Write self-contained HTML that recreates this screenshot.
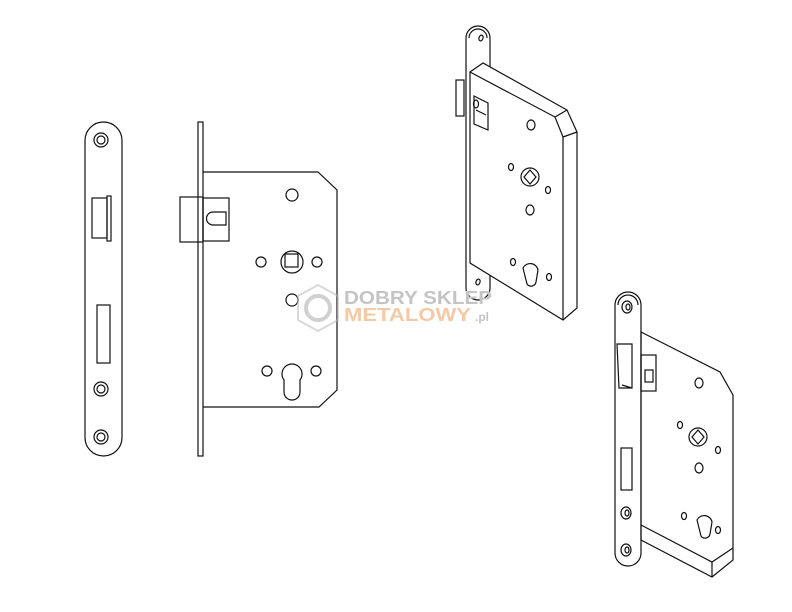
<!DOCTYPE html>
<html><head><meta charset="utf-8"><style>
html,body{margin:0;padding:0;background:#fff;width:792px;height:612px;overflow:hidden}
svg{display:block}
</style></head><body>
<svg width="792" height="612" viewBox="0 0 792 612" xmlns="http://www.w3.org/2000/svg">
<g fill="none" stroke="#111" stroke-width="1.2">
<!-- front faceplate -->
<rect x="85" y="122" width="37" height="334" rx="18.5"/>
<circle cx="101" cy="140" r="7"/><circle cx="101" cy="140" r="4"/>
<circle cx="101" cy="389" r="7"/><circle cx="101" cy="389" r="4"/>
<circle cx="101" cy="437" r="7"/><circle cx="101" cy="437" r="4"/>
<rect x="92" y="198" width="15" height="40"/>
<rect x="107" y="196" width="4" height="45"/>
<rect x="97" y="305" width="13" height="58"/>
<!-- side view -->
<rect x="198" y="122" width="5" height="334"/>
<path d="M203 172 H318 L337 190 V390 L319 407 H203"/>
<rect x="180" y="197" width="23" height="45"/>
<rect x="203" y="198" width="26" height="43"/>
<path d="M226 212 H213 A6.5 6.5 0 0 0 213 225 H226 Z"/>
<circle cx="292" cy="195" r="6"/>
<circle cx="292" cy="262" r="11"/>
<rect x="285" y="254" width="13" height="13"/>
<circle cx="261" cy="262" r="5"/><circle cx="317" cy="262" r="5"/>
<circle cx="292" cy="300" r="6"/>
<circle cx="267" cy="371" r="5"/><circle cx="316" cy="371" r="5"/>
<path d="M284 380 A10 10 0 1 1 300 380 V392 A8 8 0 0 1 284 392 Z"/>
<!-- 3D lock top -->
<path d="M466 38 A12 12 0 0 1 490 38 V288 A12 12 0 0 1 466 288 Z"/>
<path d="M469 38 A9 9 0 0 1 487 38"/>
<ellipse cx="481" cy="38" rx="2" ry="3" transform="rotate(20 481 38)"/>
<ellipse cx="478" cy="282" rx="2" ry="3" transform="rotate(20 478 282)"/>
<path d="M470 72 L483 63 L567 110 L577 132 L577 308 L563 320 L470 263 Z" fill="#fff"/>
<path d="M470 72 L555 117 L563 137 L563 320 M555 117 L567 110 M563 137 L577 132"/>
<rect x="456" y="80" width="8" height="36"/>
<path d="M474 96 L488 103 V130 L474 124 Z M476 110 L486 115"/>
<ellipse cx="476" cy="104" rx="2.5" ry="4"/>
<ellipse cx="531" cy="125" rx="4" ry="5"/>
<circle cx="530" cy="177" r="9"/>
<path d="M530 170 L536 177 L530 184 L524 177 Z"/>
<ellipse cx="511" cy="167" rx="2.5" ry="3.5"/><ellipse cx="548" cy="190" rx="2.5" ry="3.5"/>
<ellipse cx="530" cy="210" rx="4" ry="5"/>
<ellipse cx="513" cy="262" rx="2.5" ry="3.5"/><ellipse cx="549" cy="277" rx="2.5" ry="3.5"/>
<path d="M523 268 A8 8 0 0 1 538 270 L536 282 A5 5 0 0 1 527 284 Z"/>
<!-- 3D lock bottom -->
<path d="M641 332 L720 372 L733 395 L733 560 L712 577 L641 540 Z"/>
<path d="M641 525 L712 562 L733 548 M712 562 V577"/>
<rect x="641" y="355" width="15" height="36"/>
<rect x="645" y="370" width="8" height="12"/>
<path d="M615 305 A13 13 0 0 1 641 305 V553 A13 13 0 0 1 615 553 Z"/>
<path d="M618 305 A10 10 0 0 1 638 305"/>
<ellipse cx="627" cy="307" rx="5" ry="6"/><ellipse cx="628" cy="307" rx="2" ry="3"/>
<ellipse cx="626" cy="513" rx="5" ry="6"/><ellipse cx="627" cy="513" rx="2" ry="3"/>
<ellipse cx="626" cy="550" rx="5" ry="6"/><ellipse cx="627" cy="550" rx="2" ry="3"/>
<path d="M617 344 H632 V388 H619 Z M622 385 L632 388"/>
<rect x="621" y="448" width="11" height="42"/>
<ellipse cx="699" cy="383" rx="4" ry="5"/>
<circle cx="698" cy="437" r="9"/>
<path d="M698 430 L704 437 L698 444 L692 437 Z"/>
<ellipse cx="680" cy="425" rx="2.5" ry="3.5"/><ellipse cx="718" cy="450" rx="2.5" ry="3.5"/>
<ellipse cx="699" cy="468" rx="4" ry="5"/>
<ellipse cx="684" cy="516" rx="2.5" ry="3.5"/><ellipse cx="718" cy="530" rx="2.5" ry="3.5"/>
<path d="M697 520 A8 8 0 0 1 712 522 L710 534 A5 5 0 0 1 701 536 Z"/>
</g>
<!-- watermark -->
<g opacity="0.55">
<polygon points="318,285 338,296 338,320 318,331 298,320 298,296" fill="none" stroke="#bbb" stroke-width="2"/>
<circle cx="318" cy="308" r="12" fill="none" stroke="#aaa" stroke-width="4"/>
</g>
<text x="344" y="304" font-family="Liberation Sans, sans-serif" font-weight="bold" font-size="18" fill="#c4c4c4" textLength="148" lengthAdjust="spacingAndGlyphs">DOBRY SKLEP</text>
<text x="344" y="321" font-family="Liberation Sans, sans-serif" font-weight="bold" font-size="18" fill="#f4c9a4" textLength="127" lengthAdjust="spacingAndGlyphs">METALOWY</text>
<text x="475" y="321" font-family="Liberation Sans, sans-serif" font-weight="bold" font-size="12" fill="#c4c4c4">.pl</text>
</svg>
</body></html>
